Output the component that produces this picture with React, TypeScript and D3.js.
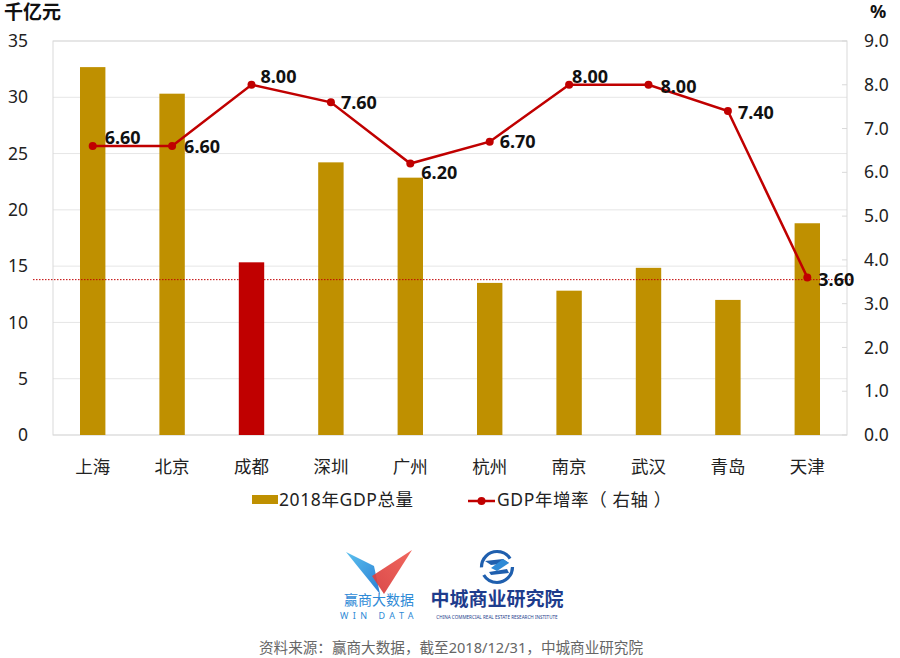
import React from "react";
import * as d3 from "d3";

const categories = ["上海", "北京", "成都", "深圳", "广州", "杭州", "南京", "武汉", "青岛", "天津"];
const gdp = [32.68, 30.32, 15.34, 24.22, 22.86, 13.51, 12.82, 14.85, 12.0, 18.81];
const growth = [6.6, 6.6, 8.0, 7.6, 6.2, 6.7, 8.0, 8.0, 7.4, 3.6];
const leftTicks = [0, 5, 10, 15, 20, 25, 30, 35];
const rightTicks = [0, 1, 2, 3, 4, 5, 6, 7, 8, 9];
const averageLine = 13.8;
const highlight = "成都";
// label offsets (layout only)
const labelDx = [12, 12, 9, 10, 11, 10, 3, 12, 10, 11];
const labelDy = [-8, 1, -8, 0, 9, 0, -8, 2, 2, 2];

const W = 900, H = 658;
const M = { left: 53, right: 847, top: 41, bottom: 435 };
const FONT = "'Noto Sans', 'Noto Sans CJK SC', sans-serif";
const GOLD = "#BF9000";
const RED = "#C00000";

export default function App() {
  const x = d3.scaleBand<string>().domain(categories).range([M.left, M.right]).paddingInner(0.68).paddingOuter(0.34);
  const yL = d3.scaleLinear().domain([0, 35]).range([M.bottom, M.top]);
  const yR = d3.scaleLinear().domain([0, 9]).range([M.bottom, M.top]);
  const cx = (c: string) => (x(c) as number) + x.bandwidth() / 2;
  const line = d3.line<number>().x((_, i) => cx(categories[i])).y((d) => yR(d));

  return (
    <svg width={W} height={H} style={{ position: "absolute", left: 0, top: 0, background: "#fff" }} fontFamily={FONT}>
      <rect x={0} y={0} width={W} height={H} fill="#fff" />
      {/* gridlines */}
      {leftTicks.map((t) => (
        <line key={"g" + t} x1={M.left} x2={M.right} y1={yL(t)} y2={yL(t)} stroke="#E6E6E6" strokeWidth={1} />
      ))}
      <rect x={M.left} y={M.top} width={M.right - M.left} height={M.bottom - M.top} fill="none" stroke="#D9D9D9" strokeWidth={1} />
      {/* right ticks */}
      {rightTicks.map((t) => (
        <line key={"rt" + t} x1={M.right - 5} x2={M.right} y1={yR(t)} y2={yR(t)} stroke="#D9D9D9" />
      ))}
      {/* left tick labels */}
      {leftTicks.map((t) => (
        <text key={"l" + t} x={28} y={yL(t)} dy="0.35em" textAnchor="end" fontSize={17.5} fill="#222">{t}</text>
      ))}
      {rightTicks.map((t) => (
        <text key={"r" + t} x={864} y={yR(t)} dy="0.35em" textAnchor="start" fontSize={17.5} fill="#222">{t.toFixed(1)}</text>
      ))}
      <text x={4} y={19} fontSize={19} fontWeight="bold" fill="#111">千亿元</text>
      <text x={870} y={18} fontSize={18} fontWeight="bold" fill="#111">%</text>
      {/* bars */}
      {categories.map((c, i) => (
        <rect key={"b" + c} x={x(c)} y={yL(gdp[i])} width={x.bandwidth()} height={yL(0) - yL(gdp[i])} fill={c === highlight ? RED : GOLD} />
      ))}
      {/* average dotted line */}
      <line x1={M.left - 20} x2={M.right + 5} y1={yL(averageLine)} y2={yL(averageLine)} stroke={RED} strokeWidth={1} strokeDasharray="1.5,1.5" />
      {/* growth line */}
      <path d={line(growth) || ""} fill="none" stroke={RED} strokeWidth={2.5} />
      {growth.map((g, i) => (
        <circle key={"p" + i} cx={cx(categories[i])} cy={yR(g)} r={4} fill={RED} />
      ))}
      {growth.map((g, i) => (
        <text key={"t" + i} x={cx(categories[i]) + labelDx[i]} y={yR(g) + labelDy[i]} dy="0.35em" fontSize={18} fontWeight="bold" fill="#111">{g.toFixed(2)}</text>
      ))}
      {/* category labels */}
      {categories.map((c) => (
        <text key={"c" + c} x={cx(c)} y={467} dy="0.35em" textAnchor="middle" fontSize={17.5} fill="#222">{c}</text>
      ))}
      {/* legend */}
      <rect x={252} y={495} width={26} height={9} fill={GOLD} />
      <text x={279} y={500} dy="0.35em" fontSize={17.5} letterSpacing={0.6} fill="#222">2018年GDP总量</text>
      <line x1={468} x2={495} y1={501} y2={501} stroke={RED} strokeWidth={2.5} />
      <circle cx={481.5} cy={501} r={4} fill={RED} />
      <text x={497} y={500} dy="0.35em" fontSize={17.5} letterSpacing={0.6} fill="#222">GDP年增率（ 右轴 ）</text>
      {/* logos */}
      <defs>
        <linearGradient id="blueG" x1="0" y1="0" x2="1" y2="1">
          <stop offset="0" stopColor="#5BC0EE" />
          <stop offset="1" stopColor="#2A7FD4" />
        </linearGradient>
        <linearGradient id="redG" x1="1" y1="0" x2="0" y2="1">
          <stop offset="0" stopColor="#F05A50" />
          <stop offset="1" stopColor="#D63A3A" />
        </linearGradient>
      </defs>
      <polygon points="346,552 374,566 380,594" fill="url(#blueG)" />
      <polygon points="412,550 372,576 384,594" fill="url(#redG)" opacity={0.92} />
      <text x={379} y={605} textAnchor="middle" fontSize={14} fill="#2E8AD6">赢商大数据</text>
      <text x={379} y={619} textAnchor="middle" fontSize={9} letterSpacing={4.5} fill="#2E8AD6">WIN DATA</text>
      <circle cx={497} cy={567} r={15.5} fill="none" stroke="#1F5FAE" strokeWidth={3.2} strokeDasharray="40,8,40,9.4" />
      <polygon points="485,561 503,559 509,563 491,565" fill="#1F5FAE" />
      <polygon points="503,559 509,563 497,571 491,568" fill="#2E8AD6" />
      <polygon points="489,572 507,569 509,573 491,575" fill="#1F5FAE" />
      <text x={497} y={606} textAnchor="middle" fontSize={19} fontWeight="bold" fill="#1E3C8C" fontFamily="'Noto Sans CJK SC', serif">中城商业研究院</text>
      <text x={497} y={618.5} textAnchor="middle" fontSize={4.6} fill="#1E3C8C">CHINA COMMERCIAL REAL ESTATE RESEARCH INSTITUTE</text>
      {/* source */}
      <text x={451} y={648} dy="0.35em" textAnchor="middle" fontSize={14.6} fill="#666">资料来源：赢商大数据，截至2018/12/31，中城商业研究院</text>
    </svg>
  );
}
